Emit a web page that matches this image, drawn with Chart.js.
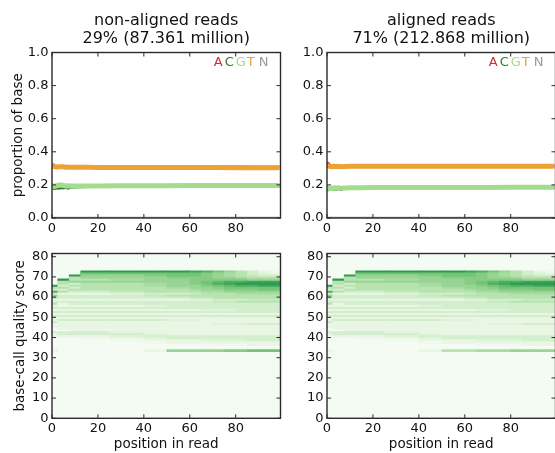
<!DOCTYPE html>
<html><head><meta charset="utf-8">
<script src="https://cdn.jsdelivr.net/npm/chart.js@4.4.1/dist/chart.umd.min.js"></script>
<style>
html,body{margin:0;padding:0;background:#fff;overflow:hidden;width:555px;height:453px;position:relative;}
canvas{position:absolute;}
</style></head><body>
<canvas id="c1" width="290" height="236" style="left:0;top:0"></canvas>
<canvas id="c2" width="280" height="236" style="left:280px;top:0"></canvas>
<canvas id="c3" width="290" height="217" style="left:0;top:236px"></canvas>
<canvas id="c4" width="280" height="217" style="left:280px;top:236px"></canvas>
<script>
// ---------- DATA ----------
const panelTitles = [["non-aligned reads", "29% (87.361 million)"], ["aligned reads", "71% (212.868 million)"]];
const bases = ["A", "C", "G", "T", "N"];
const positions = [0,1,2,3,4,5,6,7,8,10,12,15,20,30,40,50,60,70,80,90,99];

// proportion of each base, non-aligned reads
const nonA = [0.325,0.318,0.305,0.31,0.306,0.312,0.304,0.309,0.31,0.308,0.31,0.309,0.31,0.309,0.308,0.308,0.309,0.308,0.308,0.307,0.307];
const nonC = [0.19,0.178,0.183,0.18,0.184,0.181,0.185,0.18,0.186,0.188,0.189,0.19,0.19,0.19,0.191,0.191,0.19,0.191,0.191,0.191,0.19];
const nonG = [0.198,0.19,0.195,0.198,0.2,0.196,0.194,0.195,0.193,0.193,0.194,0.194,0.194,0.195,0.195,0.195,0.196,0.196,0.196,0.196,0.197];
const nonT = [0.31,0.312,0.308,0.31,0.309,0.31,0.307,0.308,0.306,0.306,0.306,0.306,0.305,0.305,0.305,0.305,0.305,0.305,0.304,0.304,0.303];
const nonN = [0.002,0.002,0.002,0.002,0.002,0.002,0.002,0.002,0.002,0.002,0.002,0.002,0.002,0.002,0.002,0.002,0.002,0.002,0.002,0.002,0.002];

// proportion of each base, aligned reads
const alA = [0.335,0.322,0.31,0.318,0.312,0.316,0.31,0.314,0.312,0.313,0.313,0.313,0.313,0.313,0.313,0.313,0.313,0.313,0.313,0.313,0.313];
const alC = [0.168,0.175,0.172,0.176,0.174,0.178,0.173,0.178,0.18,0.181,0.182,0.182,0.183,0.183,0.183,0.184,0.184,0.184,0.184,0.184,0.184];
const alG = [0.172,0.18,0.178,0.182,0.181,0.182,0.18,0.182,0.182,0.183,0.183,0.183,0.184,0.184,0.184,0.185,0.185,0.185,0.186,0.186,0.186];
const alT = [0.318,0.312,0.31,0.312,0.311,0.312,0.31,0.311,0.311,0.312,0.312,0.312,0.312,0.312,0.312,0.312,0.312,0.312,0.312,0.312,0.312];
const alN = [0.002,0.002,0.002,0.002,0.002,0.002,0.002,0.002,0.002,0.002,0.002,0.002,0.002,0.002,0.002,0.002,0.002,0.002,0.002,0.002,0.002];

// heatmap: position segments and per-quality-row density (tenths of colour scale)
const segmentEdges = [0, 2.5, 7.5, 12.5, 25, 40, 50, 60, 65, 70, 75, 80, 85, 90, 95, 99.5];
const qualityRows = [72,71,70,69,68,67,66,65,64,63,62,61,60,59,58,57,56,55,54,53,52,51,50,49,48,47,46,45,44,43,42,41,40,39,38,37,36,33];
const heatNonAligned = [
  [0,0,0, 7,7,7,7,6.5,6,5,4,3,2,1,0.5],
  [0,0,0, 5,5,5,5,5,4.5,4,3.5,3,2,1.5,1],
  [0,0,7, 4,4,4.5,5,5,4.5,4,3.5,3,2.5,2,2],
  [0,0,3, 4,4,4,4.5,4.5,4.5,4,4,3.5,3,3,3],
  [0,7,3, 3,3.5,4,4,4.5,4.5,4.5,4.5,4.5,4,4,4],
  [0,3,4, 4,4,4,4,4.5,5,5.5,6,6,6.5,6.5,6.5],
  [0,3,2, 3,3,3.5,4,4.5,5,6,6.5,7,7,7,7],
  [7,2,3, 3,3,3.5,4,4,4.5,5,5.5,6,6,6.5,6.5],
  [3,3,2, 3,3,3,3.5,4,4,4.5,5,5,5,5,5],
  [2,2,3, 3,3,3,3,3.5,4,4,4.5,4.5,4.5,5,5],
  [6,3,2, 2,2.5,3,3,3,3.5,3.5,4,4,4,4,4],
  [2,1,1, 1,1.5,2,2,2.5,3,3,3,3.5,3.5,3.5,3.5],
  [4,2,2, 2,2,2.5,3,3,3,3,3,3,3,3,3],
  [3,2,2, 2,2,2,2,2.5,2.5,3,3,3,3,3,3],
  [1,1,1, 1,1,1,1,1.5,1.5,2,2,2,2.5,2.5,2.5],
  [2,2,2, 2,2,2,2,2,2,2.5,2.5,3,3,3,3],
  [3,1,2, 2,2,2,2,2,2,2,2,2,2,2,2],
  [1,1,1, 1,1,1.5,2,2,2,2,2,2,2,2,2],
  [2,2,2, 2,2,2,2,2,2,2,2,2,2,2,2],
  [1,1,1, 1,1,1,1,1,1.5,1.5,1.5,2,2,2,2],
  [2,2,2, 2,2,2,2,2,2,2,2,2,2,2,2],
  [1,1,1, 1,1,1,1,1,1,1,1,1,1,1,1],
  [2,2,2, 2,2,2,2,2,2,2,2,2,2,2,2],
  [1,1,1, 1,1,1,1,1,1,1,1,1,1,1,1],
  [1,2,2, 2,2,2,1.5,1.5,1,1,1,1,1,1,1],
  [2,1,1, 1,1,1,1,1,1,1,1,1,1,1,1],
  [0,1,1, 1,1,1,1,1,1,1.5,1.5,1.5,2,2,2],
  [1,1,1, 1,1,1,1,1,1,1,1,1,1,1,1],
  [0,1,1, 1,1,1,1,1,1,1,1,1,1,1,1],
  [0,0,1, 1,1,1,1,1,1,1,1,1,1,1,1],
  [2,2,2, 2,1.5,1,1,1,1,1,1,1,1,1,1],
  [1,2,2, 2,2,1.5,1,1,1,1,1,1,1,1,1],
  [0,1,1, 1,1.5,2,2,2,2,2,2,2,2,2,2],
  [0,0,0, 0.5,1,1.5,2,2,2,2,2,2,2,2,2],
  [0,0,0, 0,0.5,1,1,1,1.5,1.5,1.5,1.5,2,2,2],
  [0,0,0, 0,0,0.5,1,1,1,1,1,1,1,1,1],
  [0,0,0, 0,0,0,0,0,0.5,0.5,0.5,0.5,1,1,1],
  [1,0,0, 0,0,1,4,4,4,4,4.5,4.5,5,5,5]
];
const heatAligned = [
  [0,0,0, 7,7,7,7,6.5,6,5,4,3,2,1,0.5],
  [0,0,0, 5,5,5,5,5,4.5,4,3.5,3,2,1.5,1],
  [0,0,7, 4,4,4.5,5,5,4.5,4,3.5,3,2.5,2,2],
  [0,0,3, 4,4,4,4.5,4.5,4.5,4,4,3.5,3,3,3],
  [0,7,3, 3,3.5,4,4,4.5,4.5,4.5,4.5,4.5,4,4,4],
  [0,3,4, 4,4,4,4,4.5,5,5.5,6,6,6.5,6.5,6.5],
  [0,3,2, 3,3,3.5,4,4.5,5,6,6.5,7,7,7,7],
  [7,2,3, 3,3,3.5,4,4,4.5,5,5.5,6,6,6.5,6.5],
  [3,3,2, 3,3,3,3.5,4,4,4.5,5,5,5,5,5],
  [2,2,3, 3,3,3,3,3.5,4,4,4.5,4.5,4.5,5,5],
  [6,3,2, 2,2.5,3,3,3,3.5,3.5,4,4,4,4,4],
  [2,1,1, 1,1.5,2,2,2.5,3,3,3,3.5,3.5,3.5,3.5],
  [4,2,2, 2,2,2.5,3,3,3,3,3,3,3,3,3],
  [3,2,2, 2,2,2,2,2.5,2.5,3,3,3,3,3,3],
  [1,1,1, 1,1,1,1,1.5,1.5,2,2,2,2.5,2.5,2.5],
  [2,2,2, 2,2,2,2,2,2,2.5,2.5,3,3,3,3],
  [3,1,2, 2,2,2,2,2,2,2,2,2,2,2,2],
  [1,1,1, 1,1,1.5,2,2,2,2,2,2,2,2,2],
  [2,2,2, 2,2,2,2,2,2,2,2,2,2,2,2],
  [1,1,1, 1,1,1,1,1,1.5,1.5,1.5,2,2,2,2],
  [2,2,2, 2,2,2,2,2,2,2,2,2,2,2,2],
  [1,1,1, 1,1,1,1,1,1,1,1,1,1,1,1],
  [2,2,2, 2,2,2,2,2,2,2,2,2,2,2,2],
  [1,1,1, 1,1,1,1,1,1,1,1,1,1,1,1],
  [1,2,2, 2,2,2,1.5,1.5,1,1,1,1,1,1,1],
  [2,1,1, 1,1,1,1,1,1,1,1,1,1,1,1],
  [0,1,1, 1,1,1,1,1,1,1.5,1.5,1.5,2,2,2],
  [1,1,1, 1,1,1,1,1,1,1,1,1,1,1,1],
  [0,1,1, 1,1,1,1,1,1,1,1,1,1,1,1],
  [0,0,1, 1,1,1,1,1,1,1,1,1,1,1,1],
  [2,2,2, 2,1.5,1,1,1,1,1,1,1,1,1,1],
  [1,2,2, 2,2,1.5,1,1,1,1,1,1,1,1,1],
  [0,1,1, 1,1.5,2,2,2,2,2,2,2,2,2,2],
  [0,0,0, 0.5,1,1.5,2,2,2,2,2,2,2,2,2],
  [0,0,0, 0,0.5,1,1,1,1.5,1.5,1.5,1.5,2,2,2],
  [0,0,0, 0,0,0.5,1,1,1,1,1,1,1,1,1],
  [0,0,0, 0,0,0,0,0,0.5,0.5,0.5,0.5,1,1,1],
  [1,0,0, 0,0,1,3,3,3.5,3.5,3.5,4,4,4,4]
];

// ---------- STYLE ----------
Chart.defaults.font.family = "'DejaVu Sans', sans-serif";
Chart.defaults.color = '#111';
const baseColors = {A:'#d42a2a', C:'#2f7a2f', G:'#a3dc8c', T:'#eca234', N:'#9a9a9a'};
const lineWidths = {A:3, C:3, G:5, T:5, N:2};
const drawOrder = {A:5, C:4, G:3, T:2, N:1};
const greensStops = ['#f7fcf5','#e5f5e0','#c7e9c0','#a1d99b','#74c476','#41ab5d','#238b45','#006d2c','#00441b'];
function hex2rgb(h){return [1,3,5].map(i=>parseInt(h.substr(i,2),16));}
function greens(t){
  t = Math.max(0, Math.min(1, t));
  const f = t*(greensStops.length-1), i = Math.min(Math.floor(f), greensStops.length-2), r = f-i;
  const a = hex2rgb(greensStops[i]), b = hex2rgb(greensStops[i+1]);
  return 'rgb(' + a.map((v,k)=>Math.round(v+(b[k]-v)*r)).join(',') + ')';
}

const framePlugin = {
  id: 'frame',
  beforeDatasetsDraw(chart, args, opts) {
    if (!opts.bg) return;
    const a = chart.chartArea, ctx = chart.ctx;
    ctx.save(); ctx.fillStyle = opts.bg; ctx.fillRect(a.left, a.top, a.right-a.left, a.bottom-a.top); ctx.restore();
  },
  afterDatasetsDraw(chart, args, opts) {
    const {ctx, chartArea: a, scales} = chart;
    ctx.save();
    ctx.strokeStyle = '#2a2a2a';
    ctx.lineWidth = 1;
    const L = 4;
    ctx.beginPath();
    scales.x.ticks.forEach(t => {
      const px = scales.x.getPixelForValue(t.value);
      ctx.moveTo(px, a.bottom); ctx.lineTo(px, a.bottom - L);
      ctx.moveTo(px, a.top); ctx.lineTo(px, a.top + L);
    });
    scales.y.ticks.forEach(t => {
      const py = scales.y.getPixelForValue(t.value);
      ctx.moveTo(a.left, py); ctx.lineTo(a.left + L, py);
      ctx.moveTo(a.right, py); ctx.lineTo(a.right - L, py);
    });
    ctx.stroke();
    ctx.lineWidth = 1.4;
    ctx.strokeRect(a.left, a.top, a.right - a.left, a.bottom - a.top);
    if (opts.letters) {
      ctx.font = "13px 'DejaVu Sans', sans-serif";
      ctx.textBaseline = 'middle';
      ctx.textAlign = 'left';
      const gaps = [2, 2, 1, 4, 0];
      let total = 0;
      bases.forEach((b,i) => { total += ctx.measureText(b).width + gaps[i]; });
      let x = a.right - 12 - total;
      const y = a.top + 10;
      bases.forEach((b,i) => {
        ctx.fillStyle = baseColors[b];
        ctx.fillText(b, x, y);
        x += ctx.measureText(b).width + gaps[i];
      });
    }
    ctx.restore();
  }
};

function xAxis(height, title) {
  return {
    type: 'linear', min: 0, max: 99.5, offset: false,
    grid: {display: false, drawTicks: false, offset: false}, border: {display: false},
    ticks: {stepSize: 20, includeBounds: false, padding: 2.5, font: {size: 13}, color: '#111', maxRotation: 0},
    title: title ? {display: true, text: title, font: {size: 13.5}, padding: {top: 0, bottom: 0}, color: '#111'} : {display: false},
    afterFit(s) { s.height = height; }
  };
}
function yAxis(width, max, step, fmt, title, titlePad) {
  return {
    type: 'linear', min: 0, max: max, offset: false,
    grid: {display: false, drawTicks: false, offset: false}, border: {display: false},
    ticks: {stepSize: step, includeBounds: false, padding: 3.5, font: {size: 13}, color: '#111', callback: fmt},
    title: title ? {display: true, text: title, font: {size: 13.5}, padding: {top: titlePad, bottom: 0}, color: '#111'} : {display: false},
    afterFit(s) { s.width = width; }
  };
}

function lineChart(id, titleLines, series, yWidth, padRight, yTitle) {
  const datasets = bases.map((b, i) => ({
    label: b,
    data: positions.map((p, k) => ({x: p, y: series[i][k]})),
    borderColor: baseColors[b], backgroundColor: baseColors[b],
    borderWidth: lineWidths[b], pointRadius: 0, tension: 0, fill: false,
    order: drawOrder[b]
  }));
  new Chart(document.getElementById(id), {
    type: 'line',
    data: {datasets},
    options: {
      responsive: false, animation: false, events: [],
      layout: {padding: {left: 0, right: padRight, top: 0, bottom: 0}},
      plugins: {
        legend: {display: false}, tooltip: {enabled: false},
        title: {display: true, text: titleLines, fullSize: false, font: {size: 16, lineHeight: 1.144, weight: 'normal'}, color: '#111', padding: {top: 11.5, bottom: 4.4}},
        frame: {letters: true}
      },
      scales: {
        x: xAxis(18, null),
        y: yAxis(yWidth, 1, 0.2, v => v.toFixed(1), yTitle, 10.5)
      }
    },
    plugins: [framePlugin]
  });
}

function heatChart(id, table, yWidth, padRight, yTitle) {
  const cells = [];
  qualityRows.forEach((q, i) => {
    table[i].forEach((v, j) => {
      if (v > 0) cells.push({y: q + 0.5, x: [segmentEdges[j], segmentEdges[j+1]], v: v});
    });
  });
  new Chart(document.getElementById(id), {
    type: 'bar',
    data: {datasets: [{
      data: cells,
      backgroundColor: ctx => greens((ctx.raw ? ctx.raw.v : 0) / 10),
      borderWidth: 0, barPercentage: 1, categoryPercentage: 1
    }]},
    options: {
      indexAxis: 'y',
      responsive: false, animation: false, events: [],
      layout: {padding: {left: 0, right: padRight, top: 17.5, bottom: 0}},
      plugins: {legend: {display: false}, tooltip: {enabled: false}, frame: {bg: greens(0.02)}},
      scales: {
        x: xAxis(34.7, 'position in read'),
        y: yAxis(yWidth, 81.6, 10, v => String(v), yTitle, 12.5)
      }
    },
    plugins: [framePlugin]
  });
}

lineChart('c1', panelTitles[0], [nonA, nonC, nonG, nonT, nonN], 52, 9.5, 'proportion of base');
lineChart('c2', panelTitles[1], [alA, alC, alG, alT, alN], 47, 4.5, null);
heatChart('c3', heatNonAligned, 52, 9.5, 'base-call quality score');
heatChart('c4', heatAligned, 47, 4.5, null);
</script>
</body></html>
